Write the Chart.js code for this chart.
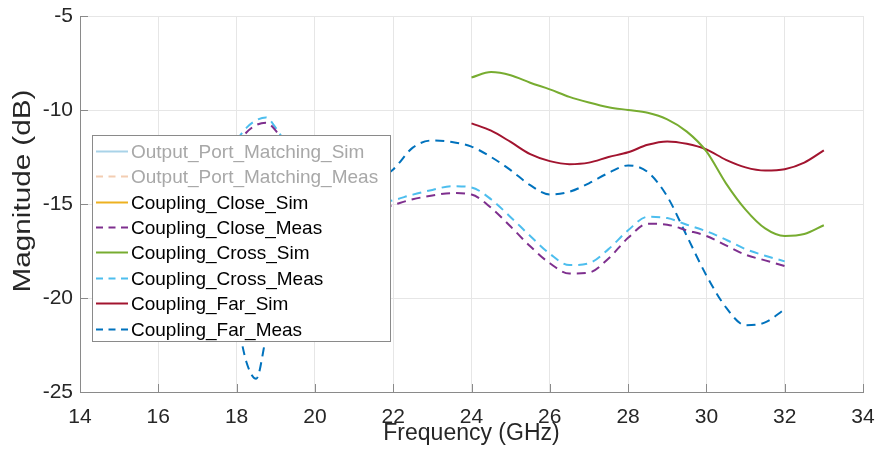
<!DOCTYPE html>
<html>
<head>
<meta charset="utf-8">
<script src="https://cdn.jsdelivr.net/npm/chart.js@4"></script>
<style>
  body { margin: 0; background: #fff; }
</style>
</head>
<body>
<canvas id="myChart" width="880" height="459"></canvas>
<script>
// frequency points (GHz)
const freqSim = [24, 24.5, 25, 25.5, 26, 26.5, 27, 27.5, 28, 28.5, 29, 29.5, 30, 30.5, 31, 31.5, 32, 32.5, 33];
const freqMeas = [18, 18.25, 18.5, 18.75, 19, 19.5, 20, 20.5, 21, 21.5, 22, 22.5, 23, 23.5, 24, 24.5, 25, 25.5,
  26, 26.5, 27, 27.5, 28, 28.5, 29, 29.5, 30, 30.5, 31, 31.5, 32];

// series values (dB)
const outputMatchSim = [];   // hidden in the plot
const outputMatchMeas = [];  // hidden in the plot
const closeSim = [];
const closeMeas = [-11.9, -11.2, -10.8, -10.68, -11.1, -12.8, -14.0, -14.8, -15.3, -15.35, -15.05, -14.75, -14.55, -14.42,
  -14.5, -15.2, -16.2, -17.25, -18.15, -18.7, -18.65, -17.9, -16.8, -16.05, -16.1, -16.4, -16.7, -17.2, -17.7, -18.0, -18.3];
const crossSim = [-8.27, -7.98, -8.15, -8.55, -8.9, -9.3, -9.6, -9.85, -10.0, -10.15, -10.5, -11.15, -12.2, -13.9,
  -15.3, -16.3, -16.7, -16.6, -16.13];
const crossMeas = [-11.6, -10.95, -10.55, -10.4, -10.95, -12.6, -13.8, -14.6, -15.0, -15.0, -14.8, -14.5, -14.25, -14.05,
  -14.12, -14.75, -15.7, -16.7, -17.65, -18.25, -18.15, -17.4, -16.4, -15.68, -15.75, -16.1, -16.45, -16.9, -17.4, -17.75, -18.05];
const farSim = [-10.71, -11.1, -11.7, -12.35, -12.72, -12.88, -12.8, -12.5, -12.25, -11.85, -11.67, -11.8, -12.1,
  -12.65, -13.05, -13.22, -13.15, -12.8, -12.15];
const farMeas = [-21.0, -23.4, -24.3, -22.1, -19.8, -16.8, -15.3, -14.6, -14.2, -13.8, -13.16, -12.0, -11.62, -11.7,
  -11.95, -12.5, -13.2, -14.0, -14.5, -14.35, -13.9, -13.35, -12.95, -13.3, -14.6, -16.7, -18.8, -20.5, -21.45, -21.3, -20.6];

// axis ticks
const xTicks = [14, 16, 18, 20, 22, 24, 26, 28, 30, 32, 34];
const yTicks = [-25, -20, -15, -10, -5];

const FONT = '"Liberation Sans", Arial, Helvetica, sans-serif';
const DASH = [9, 6];

// x/y pairs for a linear x scale
function toPoints(xs, ys) {
  return ys.map((v, i) => ({ x: xs[i], y: v }));
}

function makeSet(label, xs, ys, color, dashed, hidden) {
  return {
    label: label,
    data: toPoints(xs, ys),
    borderColor: color,
    borderWidth: 2,
    borderDash: dashed ? DASH : [],
    pointRadius: 0,
    cubicInterpolationMode: 'monotone',
    hidden: !!hidden
  };
}

// legend drawn inside the plot, on top of the lines (like MATLAB)
const boxLegend = {
  id: 'boxLegend',
  afterDatasetsDraw(chart) {
    const { ctx, chartArea } = chart;
    const left = chartArea.left + 12;
    const top = chartArea.top + 119;
    const rowH = 25.4;
    const w = 298;
    const h = 206;
    ctx.save();
    ctx.fillStyle = '#ffffff';
    ctx.fillRect(left, top, w, h);
    ctx.strokeStyle = '#8a8a8a';
    ctx.lineWidth = 1;
    ctx.strokeRect(left + 0.5, top + 0.5, w, h);
    ctx.font = '19px ' + FONT;
    ctx.textBaseline = 'middle';
    ctx.textAlign = 'left';
    chart.data.datasets.forEach((ds, i) => {
      const y = Math.round(top + 15.7 + i * rowH) + 0.5;
      ctx.strokeStyle = ds.hidden ? ds.fadedColor : ds.borderColor;
      ctx.lineWidth = 2;
      ctx.setLineDash(ds.borderDash.length ? [7, 5.5] : []);
      ctx.beginPath();
      ctx.moveTo(left + 4, y);
      ctx.lineTo(left + 36, y);
      ctx.stroke();
      ctx.setLineDash([]);
      ctx.fillStyle = ds.hidden ? '#a8a8a8' : '#000000';
      ctx.fillText(ds.label, left + 39, y + 1);
    });
    ctx.restore();
  }
};

// inward tick marks and the y axis title
const axisExtras = {
  id: 'axisExtras',
  afterDraw(chart) {
    const { ctx, scales, chartArea } = chart;
    ctx.save();
    ctx.strokeStyle = '#8a8a8a';
    ctx.lineWidth = 1;
    ctx.beginPath();
    xTicks.forEach(v => {
      const px = Math.round(scales.x.getPixelForValue(v)) + 0.5;
      ctx.moveTo(px, chartArea.bottom);
      ctx.lineTo(px, chartArea.bottom - 8);
    });
    yTicks.forEach(v => {
      const py = Math.round(scales.y.getPixelForValue(v)) + 0.5;
      ctx.moveTo(chartArea.left, py);
      ctx.lineTo(chartArea.left + 8, py);
    });
    ctx.stroke();

    // y title (stretched along its length as in the figure)
    ctx.translate(24, 191);
    ctx.rotate(-Math.PI / 2);
    ctx.scale(1.29, 1);
    ctx.font = '23px ' + FONT;
    ctx.fillStyle = '#262626';
    ctx.textAlign = 'center';
    ctx.textBaseline = 'middle';
    ctx.fillText('Magnitude (dB)', 0, 0);
    ctx.restore();
  }
};

const datasets = [
  makeSet('Output_Port_Matching_Sim', freqSim, outputMatchSim, '#4dbeee', false, true),
  makeSet('Output_Port_Matching_Meas', freqMeas, outputMatchMeas, '#d95319', true, true),
  makeSet('Coupling_Close_Sim', freqSim, closeSim, '#edb120', false),
  makeSet('Coupling_Close_Meas', freqMeas, closeMeas, '#7e2f8e', true),
  makeSet('Coupling_Cross_Sim', freqSim, crossSim, '#77ac30', false),
  makeSet('Coupling_Cross_Meas', freqMeas, crossMeas, '#4dbeee', true),
  makeSet('Coupling_Far_Sim', freqSim, farSim, '#a2142f', false),
  makeSet('Coupling_Far_Meas', freqMeas, farMeas, '#0072bd', true)
];
datasets[0].fadedColor = '#a9d3e8';
datasets[1].fadedColor = '#f3cdb2';

const ctx = document.getElementById('myChart').getContext('2d');

let myChart = new Chart(ctx, {
  type: 'line',
  data: { datasets: datasets },
  options: {
    responsive: false,
    animation: false,
    layout: { autoPadding: false, padding: { top: 16, right: 17, left: 0, bottom: 0 } },
    plugins: {
      legend: { display: false },
      tooltip: { enabled: false }
    },
    scales: {
      x: {
        type: 'linear',
        min: 14,
        max: 34,
        afterBuildTicks: scale => { scale.ticks = xTicks.map(v => ({ value: v })); },
        afterFit: scale => {
          scale.height = 67;
          scale.paddingLeft = 0;
          scale.paddingRight = 0;
        },
        grid: { color: '#e6e6e6', drawTicks: false },
        border: { display: true, color: '#8a8a8a', width: 1 },
        ticks: {
          padding: 13,
          color: '#262626',
          font: { family: FONT, size: 21 },
          maxRotation: 0
        },
        title: {
          display: true,
          text: 'Frequency (GHz)',
          color: '#262626',
          font: { family: FONT, size: 23 },
          padding: { top: 0, bottom: 12 }
        }
      },
      y: {
        min: -25,
        max: -5,
        afterBuildTicks: scale => { scale.ticks = yTicks.map(v => ({ value: v })); },
        afterFit: scale => {
          scale.width = 80;
          scale.paddingTop = 0;
          scale.paddingBottom = 0;
        },
        grid: { color: '#e6e6e6', drawTicks: false },
        border: { display: true, color: '#8a8a8a', width: 1 },
        ticks: {
          padding: 7,
          color: '#262626',
          font: { family: FONT, size: 21 }
        }
      }
    }
  },
  plugins: [boxLegend, axisExtras]
});
</script>
</body>
</html>
